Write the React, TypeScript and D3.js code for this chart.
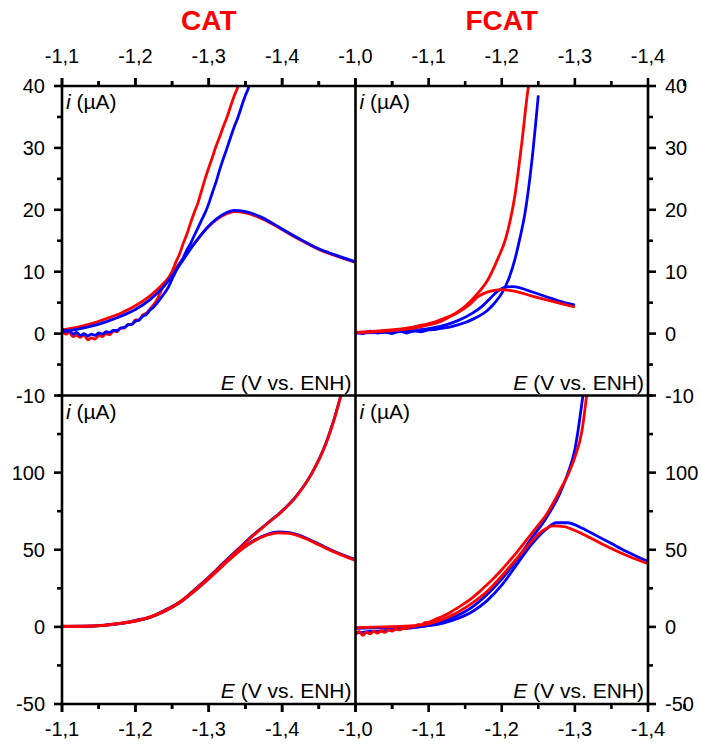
import React from "react";
import * as d3 from "d3";

// ---------- data ----------
type P = [number, number];

// CAT, top panel (scale -10..40 µA)
const catTopRedCat: P[] = [
  [-1.1, 0.5], [-1.105, -0.1], [-1.11, 0.2], [-1.115, -0.5], [-1.12, -0.3], [-1.125, -0.6], [-1.13, -0.2],
  [-1.135, -1.0], [-1.14, -0.7], [-1.145, -0.9], [-1.15, -0.3], [-1.155, -0.5], [-1.16, 0.0], [-1.165, -0.2],
  [-1.17, 0.4], [-1.175, 0.3], [-1.18, 0.9], [-1.185, 0.9], [-1.19, 1.5], [-1.195, 1.5], [-1.2, 2.2],
  [-1.205, 2.2], [-1.21, 3.0], [-1.215, 3.3], [-1.22, 4.0], [-1.225, 4.7], [-1.23, 5.6], [-1.235, 6.9],
  [-1.24, 8.0], [-1.245, 9.0], [-1.25, 10.0], [-1.255, 11.5], [-1.26, 12.8], [-1.265, 14.5], [-1.27, 16.0],
  [-1.275, 17.8], [-1.28, 19.5], [-1.285, 21.0], [-1.29, 23.0], [-1.295, 25.0], [-1.3, 26.8], [-1.305, 28.5],
  [-1.31, 30.3], [-1.315, 31.8], [-1.32, 33.5], [-1.325, 35.0], [-1.33, 36.8], [-1.335, 38.5], [-1.34, 40],
  [-1.342, 41],
];
const catTopBlueCat: P[] = [
  [-1.1, 0.8], [-1.105, 0.3], [-1.11, 0.5], [-1.115, -0.1], [-1.12, 0.2], [-1.125, -0.3], [-1.13, 0.0],
  [-1.135, -0.4], [-1.14, -0.1], [-1.145, -0.3], [-1.15, 0.1], [-1.155, -0.1], [-1.16, 0.3], [-1.165, 0.2],
  [-1.17, 0.5], [-1.175, 0.5], [-1.18, 0.9], [-1.185, 1.0], [-1.19, 1.4], [-1.195, 1.5], [-1.2, 2.0],
  [-1.205, 2.2], [-1.21, 2.8], [-1.215, 3.1], [-1.22, 3.8], [-1.225, 4.3], [-1.23, 5.0], [-1.235, 5.8],
  [-1.24, 6.6], [-1.245, 7.5], [-1.25, 8.8], [-1.255, 10.0], [-1.26, 11.2], [-1.265, 12.2], [-1.27, 13.5],
  [-1.275, 14.5], [-1.28, 15.8], [-1.285, 17.0], [-1.29, 18.3], [-1.295, 19.5], [-1.3, 21.0], [-1.305, 22.8],
  [-1.31, 24.5], [-1.315, 26.5], [-1.32, 28.3], [-1.325, 30.0], [-1.33, 31.8], [-1.335, 33.5], [-1.34, 35.0],
  [-1.345, 36.8], [-1.35, 38.5], [-1.355, 40], [-1.357, 41],
];
const catTopRedPeak: P[] = [
  [-1.1, 0.6], [-1.12, 1.0], [-1.14, 1.6], [-1.16, 2.4], [-1.18, 3.3], [-1.2, 4.5], [-1.22, 6.1],
  [-1.24, 8.3], [-1.26, 11.3], [-1.28, 14.5], [-1.3, 17.3], [-1.32, 19.1], [-1.335, 19.7], [-1.35, 19.5],
  [-1.37, 18.7], [-1.39, 17.5], [-1.41, 16.1], [-1.43, 14.8], [-1.45, 13.6], [-1.47, 12.7], [-1.5, 11.5],
];
const catTopBluePeak: P[] = [
  [-1.1, 0.4], [-1.12, 0.7], [-1.14, 1.2], [-1.16, 1.9], [-1.18, 2.8], [-1.2, 3.9], [-1.22, 5.5],
  [-1.24, 7.8], [-1.26, 11.0], [-1.28, 14.5], [-1.3, 17.4], [-1.32, 19.3], [-1.335, 19.9], [-1.35, 19.7],
  [-1.37, 18.9], [-1.39, 17.6], [-1.41, 16.2], [-1.43, 14.9], [-1.45, 13.7], [-1.47, 12.8], [-1.5, 11.6],
];

// FCAT, top panel
const fcatTopRedCat: P[] = [
  [-1.0, 0.2], [-1.04, 0.4], [-1.08, 0.9], [-1.1, 1.4], [-1.113, 1.8], [-1.13, 2.8], [-1.15, 4.4],
  [-1.165, 6.2], [-1.181, 8.7], [-1.195, 12.2], [-1.205, 15.2], [-1.212, 18.5], [-1.218, 22.3],
  [-1.227, 30.4], [-1.236, 39.5], [-1.238, 41],
];
const fcatTopBlueCat: P[] = [
  [-1.0, 0.3], [-1.01, 0.0], [-1.02, 0.4], [-1.03, 0.1], [-1.04, 0.3], [-1.05, 0.0], [-1.06, 0.4],
  [-1.07, 0.1], [-1.08, 0.4], [-1.09, 0.3], [-1.1, 0.6], [-1.11, 0.7], [-1.12, 0.9], [-1.13, 1.1],
  [-1.14, 1.4], [-1.15, 1.8], [-1.16, 2.3], [-1.17, 2.9], [-1.18, 3.7], [-1.19, 4.9], [-1.2, 6.5],
  [-1.21, 9.0], [-1.218, 12.0], [-1.225, 15.5], [-1.232, 19.6], [-1.241, 27.7], [-1.25, 38.5],
];
const fcatTopRedPeak: P[] = [
  [-1.0, 0.2], [-1.04, 0.5], [-1.08, 1.1], [-1.1, 1.6], [-1.12, 2.4], [-1.14, 3.4], [-1.155, 4.6],
  [-1.168, 6.0], [-1.18, 6.7], [-1.19, 7.0], [-1.2, 7.1], [-1.21, 7.0], [-1.22, 6.8], [-1.24, 6.1],
  [-1.26, 5.5], [-1.28, 4.9], [-1.3, 4.3],
];
const fcatTopBluePeak: P[] = [
  [-1.0, 0.1], [-1.04, 0.2], [-1.08, 0.5], [-1.1, 0.8], [-1.12, 1.3], [-1.14, 2.1], [-1.16, 3.3],
  [-1.173, 4.4], [-1.185, 5.8], [-1.195, 6.9], [-1.205, 7.5], [-1.215, 7.6], [-1.225, 7.4], [-1.24, 6.8],
  [-1.26, 6.0], [-1.28, 5.2], [-1.3, 4.6],
];

// CAT, bottom panel (scale -50..150 µA)
const catBotRedCat: P[] = [
  [-1.1, 0.5], [-1.12, 0.2], [-1.14, 0.6], [-1.16, 1.2], [-1.18, 2.4], [-1.2, 4.0], [-1.22, 6.5],
  [-1.24, 10.5], [-1.26, 16.0], [-1.28, 23.5], [-1.3, 32.0], [-1.32, 41.0], [-1.34, 50.0], [-1.36, 59.0],
  [-1.38, 67.0], [-1.4, 75.0], [-1.42, 85.0], [-1.44, 99.0], [-1.46, 119.0], [-1.47, 133.0], [-1.48, 150],
];
const catBotBlueCat: P[] = [
  [-1.1, 0.3], [-1.12, 0.5], [-1.14, 0.4], [-1.16, 1.3], [-1.18, 2.2], [-1.2, 4.2], [-1.22, 6.3],
  [-1.24, 10.8], [-1.26, 15.8], [-1.28, 23.8], [-1.3, 32.3], [-1.32, 41.5], [-1.34, 50.5], [-1.36, 59.3],
  [-1.38, 67.2], [-1.4, 75.2], [-1.42, 85.3], [-1.44, 99.2], [-1.46, 119.5], [-1.47, 133.5], [-1.48, 150],
];
const catBotRedPeak: P[] = [
  [-1.1, 0.4], [-1.14, 0.5], [-1.18, 2.2], [-1.2, 3.8], [-1.22, 6.3], [-1.24, 10.2], [-1.26, 15.6],
  [-1.28, 23.0], [-1.3, 31.2], [-1.32, 40.0], [-1.34, 48.5], [-1.36, 55.2], [-1.38, 59.6], [-1.395, 61.0],
  [-1.41, 60.6], [-1.43, 57.6], [-1.45, 53.2], [-1.47, 48.8], [-1.5, 43.0],
];
const catBotBluePeak: P[] = [
  [-1.1, 0.3], [-1.14, 0.5], [-1.18, 2.1], [-1.2, 3.7], [-1.22, 6.2], [-1.24, 10.1], [-1.26, 15.5],
  [-1.28, 23.0], [-1.3, 31.3], [-1.32, 40.2], [-1.34, 48.8], [-1.36, 55.6], [-1.38, 60.0], [-1.395, 61.5],
  [-1.41, 61.1], [-1.43, 58.1], [-1.45, 53.7], [-1.47, 49.2], [-1.5, 43.6],
];

// FCAT, bottom panel
const fcatBotRedCat: P[] = [
  [-1.0, -5.0], [-1.005, -3.0], [-1.01, -5.5], [-1.015, -3.5], [-1.02, -4.5], [-1.025, -2.8], [-1.03, -4.0],
  [-1.035, -2.5], [-1.04, -3.5], [-1.045, -2.0], [-1.05, -2.8], [-1.055, -1.5], [-1.06, -2.0], [-1.065, -0.8],
  [-1.07, -1.2], [-1.075, 0.2], [-1.08, 0.0], [-1.085, 1.5], [-1.09, 1.3], [-1.095, 2.8], [-1.1, 3.0],
  [-1.11, 5.0], [-1.12, 7.0], [-1.13, 9.5], [-1.14, 12.5], [-1.15, 15.5], [-1.16, 19.0], [-1.17, 23.0],
  [-1.18, 27.5], [-1.19, 32.0], [-1.2, 37.0], [-1.21, 42.5], [-1.22, 48.0], [-1.23, 54.0], [-1.24, 60.0],
  [-1.25, 66.0], [-1.26, 72.0], [-1.27, 80.0], [-1.28, 89.0], [-1.29, 98.0], [-1.3, 110.0], [-1.31, 128.0],
  [-1.316, 150],
];
const fcatBotBlueCat: P[] = [
  [-1.0, -4.0], [-1.01, -3.5], [-1.02, -3.0], [-1.04, -2.5], [-1.06, -1.5], [-1.08, -0.5], [-1.1, 1.0],
  [-1.12, 3.5], [-1.14, 7.5], [-1.16, 13.0], [-1.18, 21.0], [-1.2, 31.0], [-1.22, 43.0], [-1.24, 57.0],
  [-1.26, 70.0], [-1.28, 87.0], [-1.29, 99.0], [-1.3, 115.0], [-1.311, 150],
];
const fcatBotRedPeak: P[] = [
  [-1.0, -0.5], [-1.04, 0.0], [-1.08, 0.8], [-1.1, 2.0], [-1.12, 5.0], [-1.14, 9.5], [-1.16, 15.5],
  [-1.18, 23.0], [-1.2, 33.0], [-1.22, 44.0], [-1.24, 55.0], [-1.255, 62.0], [-1.27, 65.5], [-1.285, 65.0],
  [-1.3, 62.5], [-1.32, 58.0], [-1.34, 53.0], [-1.36, 48.5], [-1.38, 44.5], [-1.4, 41.0],
];
const fcatBotBluePeak: P[] = [
  [-1.0, -1.0], [-1.04, -0.5], [-1.08, 0.0], [-1.1, 0.8], [-1.12, 2.5], [-1.14, 5.5], [-1.16, 10.0],
  [-1.18, 17.0], [-1.2, 27.0], [-1.22, 40.0], [-1.24, 53.0], [-1.26, 63.0], [-1.275, 67.5], [-1.29, 67.5],
  [-1.31, 64.0], [-1.33, 59.0], [-1.35, 54.0], [-1.37, 49.0], [-1.39, 44.5], [-1.4, 42.5],
];

const panelTitles = ["CAT", "FCAT"];
const leftXDomain: [number, number] = [-1.1, -1.5];
const rightXDomain: [number, number] = [-1.0, -1.4];
const topYDomain: [number, number] = [-10, 40];
const botYDomain: [number, number] = [-50, 150];
const leftXMajor = [-1.1, -1.2, -1.3, -1.4];
const rightXMajor = [-1.0, -1.1, -1.2, -1.3, -1.4];
const topYMajor = [40, 30, 20, 10, 0, -10];
const botYMajor = [100, 50, 0, -50];
const topYMinor = [35, 25, 15, 5, -5];
const botYMinor = [150, 125, 75, 25, -25];
const yLabel = "(µA)";
const xLabel = "(V vs. ENH)";

// ---------- layout ----------
const W = 702, Hh = 746;
const L = 62, M = 355.5, R = 648, T = 86, MID = 395.5, B = 704;
const RED = "#ff0000", BLUE = "#0000ff";
const FONT = "'Liberation Sans', Arial, sans-serif";
const FS = 20;
const LW = 2.8;

const xL = d3.scaleLinear().domain(leftXDomain).range([L, M]);
const xR = d3.scaleLinear().domain(rightXDomain).range([M, R]);
const yT = d3.scaleLinear().domain(topYDomain).range([MID, T]);
const yB = d3.scaleLinear().domain(botYDomain).range([B, MID]);

const fmtX = (v: number) => d3.format(".1f")(v).replace("−", "-").replace(".", ",");
const fmtY = (v: number) => d3.format("d")(v).replace("−", "-");

type Series = { data: P[]; color: string };
type Panel = {
  id: string;
  x: d3.ScaleLinear<number, number>;
  y: d3.ScaleLinear<number, number>;
  x0: number; x1: number; y0: number; y1: number;
  series: Series[];
};

const panels: Panel[] = [
  {
    id: "tl", x: xL, y: yT, x0: L, x1: M, y0: T, y1: MID,
    series: [
      { data: catTopRedPeak, color: RED },
      { data: catTopRedCat, color: RED },
      { data: catTopBlueCat, color: BLUE },
      { data: catTopBluePeak, color: BLUE },
    ],
  },
  {
    id: "tr", x: xR, y: yT, x0: M, x1: R, y0: T, y1: MID,
    series: [
      { data: fcatTopBlueCat, color: BLUE },
      { data: fcatTopBluePeak, color: BLUE },
      { data: fcatTopRedCat, color: RED },
      { data: fcatTopRedPeak, color: RED },
    ],
  },
  {
    id: "bl", x: xL, y: yB, x0: L, x1: M, y0: MID, y1: B,
    series: [
      { data: catBotBlueCat, color: BLUE },
      { data: catBotBluePeak, color: BLUE },
      { data: catBotRedCat, color: RED },
      { data: catBotRedPeak, color: RED },
    ],
  },
  {
    id: "br", x: xR, y: yB, x0: M, x1: R, y0: MID, y1: B,
    series: [
      { data: fcatBotBluePeak, color: BLUE },
      { data: fcatBotBlueCat, color: BLUE },
      { data: fcatBotRedPeak, color: RED },
      { data: fcatBotRedCat, color: RED },
    ],
  },
];

const AX = 2.6;
const MAJ = 8;
const MIN = 5;

function XAxis({ x, ticks, yPos, dir, label }: { x: d3.ScaleLinear<number, number>; ticks: number[]; yPos: number; dir: number; label: boolean }) {
  const minors = ticks.map((t) => t - 0.05);
  return (
    <g>
      {ticks.map((t, i) => (
        <line key={"M" + i} x1={x(t)} x2={x(t)} y1={yPos} y2={yPos + dir * MAJ} stroke="#000" strokeWidth={AX} />
      ))}
      {minors.map((t, i) => (
        <line key={"m" + i} x1={x(t)} x2={x(t)} y1={yPos} y2={yPos + dir * MIN} stroke="#000" strokeWidth={AX} />
      ))}
      {label &&
        ticks.map((t, i) => (
          <text key={"t" + i} x={x(t)} y={dir < 0 ? yPos - 23 : yPos + 32} textAnchor="middle" fontSize={FS} fontFamily={FONT}>
            {fmtX(t)}
          </text>
        ))}
    </g>
  );
}

function YAxis({ y, ticks, minors, xPos, dir }: { y: d3.ScaleLinear<number, number>; ticks: number[]; minors: number[]; xPos: number; dir: number }) {
  return (
    <g>
      {ticks.map((t, i) => (
        <line key={"M" + i} x1={xPos} x2={xPos + dir * MAJ} y1={y(t)} y2={y(t)} stroke="#000" strokeWidth={AX} />
      ))}
      {minors.map((t, i) => (
        <line key={"m" + i} x1={xPos} x2={xPos + dir * MIN} y1={y(t)} y2={y(t)} stroke="#000" strokeWidth={AX} />
      ))}
      {ticks.map((t, i) => (
        <text key={"t" + i} x={xPos + dir * 17} y={y(t) + 7} textAnchor={dir < 0 ? "end" : "start"} fontSize={FS} fontFamily={FONT}>
          {fmtY(t)}
        </text>
      ))}
    </g>
  );
}

export default function App() {
  return (
    <svg width={W} height={Hh} style={{ position: "absolute", left: 0, top: 0, background: "#fff" }}>
      <defs>
        {panels.map((p) => (
          <clipPath id={"clip-" + p.id} key={p.id}>
            <rect x={p.x0} y={p.y0} width={p.x1 - p.x0} height={p.y1 - p.y0} />
          </clipPath>
        ))}
      </defs>
      <rect x={0} y={0} width={W} height={Hh} fill="#fff" />

      {/* titles */}
      <text x={(L + M) / 2} y={30} textAnchor="middle" fontSize={28} fontWeight="bold" fill={RED} fontFamily={FONT}>
        {panelTitles[0]}
      </text>
      <text x={(M + R) / 2} y={30} textAnchor="middle" fontSize={28} fontWeight="bold" fill={RED} fontFamily={FONT}>
        {panelTitles[1]}
      </text>

      {/* curves */}
      {panels.map((p) => {
        const line = d3
          .line<P>()
          .x((d) => p.x(d[0]))
          .y((d) => p.y(d[1]))
          .curve(d3.curveMonotoneX);
        return (
          <g key={p.id} clipPath={`url(#clip-${p.id})`}>
            {p.series.map((s, i) => (
              <path key={i} d={line(s.data) || ""} fill="none" stroke={s.color} strokeWidth={LW} strokeLinejoin="round" />
            ))}
          </g>
        );
      })}

      {/* axes */}
      <XAxis x={xL} ticks={[...leftXMajor, -1.5]} yPos={T} dir={-1} label={false} />
      <XAxis x={xL} ticks={leftXMajor} yPos={T} dir={-1} label={true} />
      <XAxis x={xR} ticks={rightXMajor} yPos={T} dir={-1} label={true} />
      <XAxis x={xL} ticks={[...leftXMajor, -1.5]} yPos={B} dir={1} label={false} />
      <XAxis x={xL} ticks={leftXMajor} yPos={B} dir={1} label={true} />
      <XAxis x={xR} ticks={rightXMajor} yPos={B} dir={1} label={true} />

      <YAxis y={yT} ticks={topYMajor} minors={topYMinor} xPos={L} dir={-1} />
      <YAxis y={yT} ticks={topYMajor} minors={topYMinor} xPos={R} dir={1} />
      <YAxis y={yB} ticks={botYMajor} minors={botYMinor} xPos={L} dir={-1} />
      <YAxis y={yB} ticks={botYMajor} minors={botYMinor} xPos={R} dir={1} />

      {/* frame */}
      {[T, MID, B].map((yy, i) => (
        <line key={"h" + i} x1={L - AX / 2} x2={R + AX / 2} y1={yy} y2={yy} stroke="#000" strokeWidth={AX} />
      ))}
      {[L, M, R].map((xx, i) => (
        <line key={"v" + i} x1={xx} x2={xx} y1={T - AX / 2} y2={B + AX / 2} stroke="#000" strokeWidth={AX} />
      ))}

      {/* axis labels */}
      {[
        [L + 4, T + 23],
        [M + 4, T + 23],
        [L + 4, MID + 23],
        [M + 4, MID + 23],
      ].map(([xx, yy], i) => (
        <text key={"yl" + i} x={xx} y={yy} fontSize={21} fontFamily={FONT}>
          <tspan fontStyle="italic">i</tspan> {yLabel}
        </text>
      ))}
      {[
        [M - 4, MID - 6],
        [R - 4, MID - 6],
        [M - 4, B - 6],
        [R - 4, B - 6],
      ].map(([xx, yy], i) => (
        <text key={"xl" + i} x={xx} y={yy} fontSize={21} fontFamily={FONT} textAnchor="end">
          <tspan fontStyle="italic">E</tspan> {xLabel}
        </text>
      ))}
    </svg>
  );
}
